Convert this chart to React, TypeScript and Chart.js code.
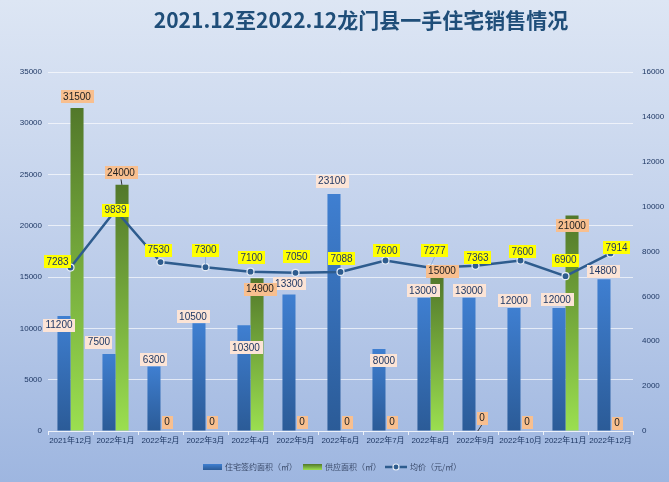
import { useEffect, useRef } from "react";
import { Chart, registerables } from "chart.js";
Chart.register(...registerables);

const titleText = "2021.12至2022.12龙门县一手住宅销售情况";
const categories = [
  "2021年12月", "2022年1月", "2022年2月", "2022年3月", "2022年4月", "2022年5月", "2022年6月",
  "2022年7月", "2022年8月", "2022年9月", "2022年10月", "2022年11月", "2022年12月",
];
const signedArea = [11200, 7500, 6300, 10500, 10300, 13300, 23100, 8000, 13000, 13000, 12000, 12000, 14800];
const supplyArea = [31500, 24000, 0, 0, 14900, 0, 0, 0, 15000, 0, 0, 21000, 0];
const avgPrice = [7283, 9839, 7530, 7300, 7100, 7050, 7088, 7600, 7277, 7363, 7600, 6900, 7914];
const seriesNames = ["住宅签约面积（㎡）", "供应面积（㎡）", "均价（元/㎡）"];
const leftAxis = { min: 0, max: 35000, step: 5000 };
const rightAxis = { min: 0, max: 16000, step: 2000 };

// label nudges [dx, dy] relative to the bar top / point
const signedLabelShift = [[-5, 9], [-10, -12], [0, -7], [-6, -7], [2, 22], [0, -11], [-2, -13], [5, 12], [-1, -7], [0, -7], [0, -7], [-2, -8], [-1, -8]];
const supplyLabelShift = [[0, -11], [-1, -12], [0, -9], [0, -9], [3, 11], [0, -9], [0, -9], [0, -9], [5, -6], [0, -13], [0, -9], [0, 10], [0, -8]];
const priceLabelShift = [[-13, -6], [0, 0], [-2, -12], [0, -17], [1, -14], [1, -16], [1, -13], [1, -10], [4, -17], [2, -8], [2, -9], [0, -16], [6, -6]];
// indices whose labels carry a leader line
const supplyLeaders = [1, 9];
const priceLeaders = [3, 8];

const TXT = "#1F3864";
const LABEL_FONT = "10px 'Liberation Sans', 'Noto Sans', sans-serif";

function barGradient(top: string, bottom: string) {
  return (c: any) => {
    const chart = c.chart;
    const area = chart.chartArea;
    if (!area || c.type !== "data") return bottom;
    const ys = chart.scales.y;
    const v = c.raw as number;
    const yTop = ys.getPixelForValue(v);
    const yBot = ys.getPixelForValue(0);
    if (Math.abs(yBot - yTop) < 1) return bottom;
    const g = chart.ctx.createLinearGradient(0, yTop, 0, yBot);
    g.addColorStop(0, top);
    g.addColorStop(1, bottom);
    return g;
  };
}

function box(ctx: CanvasRenderingContext2D, text: string, cx: number, cy: number, bg: string, fg: string) {
  ctx.font = LABEL_FONT;
  const w = ctx.measureText(text).width + 5;
  const h = 13;
  ctx.fillStyle = bg;
  ctx.fillRect(Math.round(cx - w / 2), Math.round(cy - h / 2), Math.round(w), h);
  ctx.fillStyle = fg;
  ctx.textAlign = "center";
  ctx.textBaseline = "middle";
  ctx.fillText(text, cx, cy + 0.5);
}

function leader(ctx: CanvasRenderingContext2D, cx: number, cy: number, px: number, py: number, color: string) {
  const dir = py > cy ? 1 : -1;
  ctx.strokeStyle = color;
  ctx.lineWidth = 1;
  ctx.beginPath();
  ctx.moveTo(cx, cy + dir * 6.5);
  ctx.lineTo(px + (cx - px) * 0.15, py + (dir > 0 ? 0 : 0));
  ctx.stroke();
}

const decor = {
  id: "decor",
  afterDatasetsDraw(chart: any) {
    const ctx = chart.ctx as CanvasRenderingContext2D;
    ctx.save();
    const m0 = chart.getDatasetMeta(0);
    const m1 = chart.getDatasetMeta(1);
    const m2 = chart.getDatasetMeta(2);
    m1.data.forEach((el: any, i: number) => {
      if (!supplyLeaders.includes(i)) return;
      const [dx, dy] = supplyLabelShift[i];
      leader(ctx, el.x + dx, el.y + dy, el.x + (i === 9 ? -5 : 0), el.y, "#333333");
    });
    m2.data.forEach((el: any, i: number) => {
      if (!priceLeaders.includes(i)) return;
      const [dx, dy] = priceLabelShift[i];
      leader(ctx, el.x + dx, el.y + dy, el.x, el.y - 3, "#8FB0DA");
    });
    m0.data.forEach((el: any, i: number) => {
      const [dx, dy] = signedLabelShift[i];
      box(ctx, String(signedArea[i]), el.x + dx, el.y + dy, "#FCE4D6", TXT);
    });
    m1.data.forEach((el: any, i: number) => {
      const [dx, dy] = supplyLabelShift[i];
      box(ctx, String(supplyArea[i]), el.x + dx, el.y + dy, "#F8BF8F", "#222222");
    });
    m2.data.forEach((el: any, i: number) => {
      const [dx, dy] = priceLabelShift[i];
      box(ctx, String(avgPrice[i]), el.x + dx, el.y + dy, "#FFFF00", TXT);
    });
    ctx.restore();
  },
  afterDraw(chart: any) {
    const ctx = chart.ctx as CanvasRenderingContext2D;
    ctx.save();
    // title
    ctx.font = "bold 21px 'Noto Sans CJK SC', sans-serif";
    ctx.fillStyle = "#1F4E79";
    ctx.textAlign = "center";
    ctx.textBaseline = "middle";
    ctx.fillText(titleText, 361, 20);
    // legend
    const ly = 467;
    ctx.font = "8px 'Noto Sans CJK SC', sans-serif";
    ctx.textBaseline = "middle";
    ctx.textAlign = "left";
    let g = ctx.createLinearGradient(0, ly - 3, 0, ly + 3);
    g.addColorStop(0, "#3F7FD1");
    g.addColorStop(1, "#2B5B97");
    ctx.fillStyle = g;
    ctx.fillRect(203, ly - 3, 19, 6);
    ctx.fillStyle = "#3A4A6A";
    ctx.fillText(seriesNames[0], 225, ly);
    g = ctx.createLinearGradient(0, ly - 3, 0, ly + 3);
    g.addColorStop(0, "#52782A");
    g.addColorStop(1, "#9BDF50");
    ctx.fillStyle = g;
    ctx.fillRect(303, ly - 3, 19, 6);
    ctx.fillStyle = "#3A4A6A";
    ctx.fillText(seriesNames[1], 325, ly);
    ctx.strokeStyle = "#2E5C8E";
    ctx.lineWidth = 2.5;
    ctx.beginPath();
    ctx.moveTo(385, ly);
    ctx.lineTo(407, ly);
    ctx.stroke();
    ctx.beginPath();
    ctx.arc(396, ly, 3, 0, Math.PI * 2);
    ctx.fillStyle = "#2E5C8E";
    ctx.fill();
    ctx.strokeStyle = "#E6ECF6";
    ctx.lineWidth = 1.2;
    ctx.stroke();
    ctx.fillStyle = "#3A4A6A";
    ctx.fillText(seriesNames[2], 410, ly);
    ctx.restore();
  },
};

export default function App() {
  const ref = useRef<HTMLCanvasElement>(null);
  useEffect(() => {
    if (!ref.current) return;
    const tickFont = { size: 8, family: "'Liberation Sans', 'Noto Sans CJK SC', sans-serif" };
    const chart = new Chart(ref.current, {
      type: "bar",
      data: {
        labels: categories,
        datasets: [
          {
            type: "bar",
            label: seriesNames[0],
            data: signedArea,
            backgroundColor: barGradient("#3F7FD1", "#2B5B97") as any,
            yAxisID: "y",
            order: 1,
            barPercentage: 1,
            categoryPercentage: 0.58,
          },
          {
            type: "bar",
            label: seriesNames[1],
            data: supplyArea,
            backgroundColor: barGradient("#52782A", "#9BDF50") as any,
            yAxisID: "y",
            order: 2,
            barPercentage: 1,
            categoryPercentage: 0.58,
          },
          {
            type: "line",
            label: seriesNames[2],
            data: avgPrice,
            yAxisID: "y1",
            order: 0,
            borderColor: "#2E5C8E",
            borderWidth: 2.5,
            pointRadius: 3.5,
            pointBackgroundColor: "#2E5C8E",
            pointBorderColor: "#E6ECF6",
            pointBorderWidth: 1.2,
            tension: 0,
          } as any,
        ],
      },
      options: {
        responsive: false,
        animation: false,
        layout: { padding: { top: 72, left: 0, right: 0, bottom: 0 } },
        plugins: { legend: { display: false }, tooltip: { enabled: false }, title: { display: false } },
        scales: {
          x: {
            offset: true,
            grid: { display: true, drawOnChartArea: false, color: "#EEF2FA", tickLength: 4, offset: true },
            border: { display: true, color: "#EEF2FA", width: 1 },
            ticks: { font: tickFont, color: TXT, padding: 1, maxRotation: 0, autoSkip: false },
            afterFit: (s: any) => { s.height = 51; },
          },
          y: {
            position: "left",
            min: leftAxis.min,
            max: leftAxis.max,
            ticks: { stepSize: leftAxis.step, font: tickFont, color: TXT, padding: 6, callback: (v: any) => String(v) },
            grid: { color: "rgba(255,255,255,0.65)", drawTicks: false },
            border: { display: false },
            afterFit: (s: any) => { s.width = 48; },
          },
          y1: {
            position: "right",
            min: rightAxis.min,
            max: rightAxis.max,
            ticks: { stepSize: rightAxis.step, font: tickFont, color: TXT, padding: 9, callback: (v: any) => String(v) },
            grid: { drawOnChartArea: false, drawTicks: false },
            border: { display: false },
            afterFit: (s: any) => { s.width = 36; },
          },
        },
      },
      plugins: [decor],
    });
    return () => chart.destroy();
  }, []);
  return (
    <div
      style={{
        position: "fixed",
        left: 0,
        top: 0,
        width: 669,
        height: 482,
        background: "linear-gradient(to bottom, #DDE6F4 0%, #C3D2EC 45%, #9EB6E0 100%)",
      }}
    >
      <canvas ref={ref} width={669} height={482} style={{ display: "block" }} />
    </div>
  );
}
